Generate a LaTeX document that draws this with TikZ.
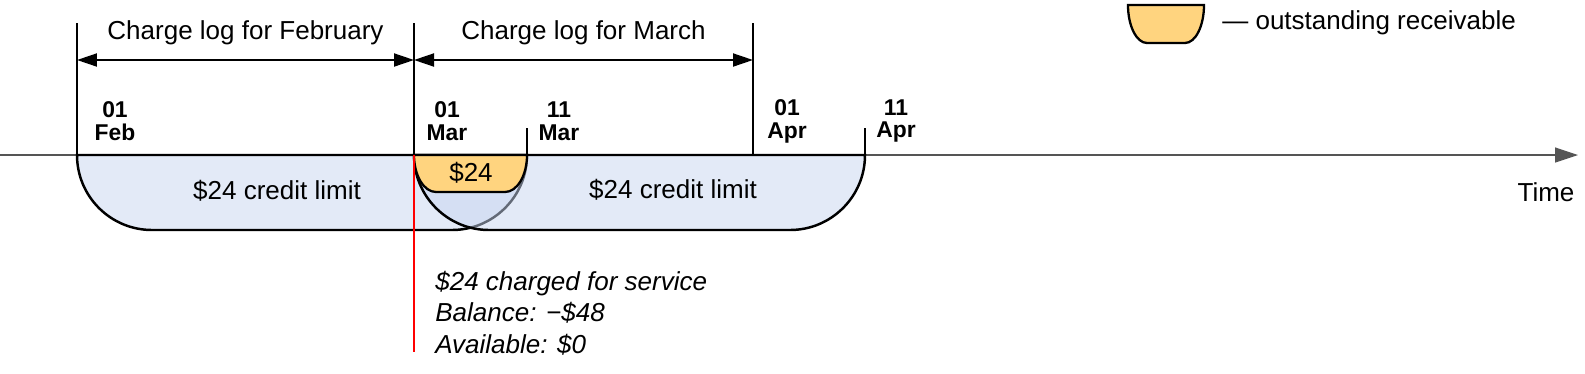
\documentclass[tikz,border=0pt]{standalone}
\usepackage{fontspec}
\setmainfont{Liberation Sans}
\usepackage{tikz}
\usetikzlibrary{arrows.meta,positioning}
\definecolor{limitblue}{HTML}{C7D5EF}
\definecolor{recvorange}{HTML}{FFD47F}
\definecolor{axisgray}{HTML}{555555}

\begin{document}
\begin{tikzpicture}[
  x=0.02cm, y=-0.02cm,
  font=\fontsize{14.8}{17.8}\selectfont,
  axis/.style={draw=axisgray, line width=0.7pt, -{Triangle[length=0.46cm, width=0.3cm]}},
  blob/.style={draw=black, line width=1.4pt, fill=limitblue, fill opacity=0.5},
  recv/.style={draw=black, line width=1.3pt, fill=recvorange},
  tickline/.style={draw=black, line width=1.1pt},
  dim/.style={{Triangle[length=0.4cm, width=0.26cm]}-{Triangle[length=0.4cm, width=0.26cm]}, line width=1.1pt},
  datelbl/.style={font=\bfseries\fontsize{13}{13}\selectfont, align=center, inner sep=0pt},
  lbl/.style={inner sep=0pt},
  charge/.style={draw=red, line width=1.5pt},
  note/.style={font=\itshape\fontsize{14.8}{17.9}\selectfont, align=left, inner sep=0pt},
]
\useasboundingbox (0,0) rectangle (1585,373);

% time axis
\coordinate (axstart) at (0,155);
\coordinate (axend) at (1578,155);
\draw[axis] (axstart) -- (axend);
\node[lbl] (timelbl) at (1546,192) {Time};

% ticks on the axis
\coordinate (feb) at (77,155);
\coordinate (mar) at (414,155);
\coordinate (mareleven) at (527,155);
\coordinate (apr) at (753,155);
\coordinate (apreleven) at (865,155);
\coordinate (febtop) at (77,23);
\coordinate (martop) at (414,23);
\coordinate (aprtop) at (753,23);
\coordinate (marelevtop) at (527,128);
\coordinate (aprelevtop) at (865,128);

% credit limit windows
\draw[blob] (feb) arc[start angle=180, end angle=90, radius=75] -- (452,230)
  arc[start angle=90, end angle=0, radius=75] -- cycle;
\draw[blob] (mar) arc[start angle=180, end angle=90, radius=75] -- (790,230)
  arc[start angle=90, end angle=0, radius=75] -- cycle;
\node[lbl] (feblimit) at (277,191) {\$24 credit limit};
\node[lbl] (marlimit) at (673,190) {\$24 credit limit};

% receivable
\draw[recv] (mar) arc[start angle=180, end angle=90, x radius=22, y radius=37] -- (505,192)
  arc[start angle=90, end angle=0, x radius=22, y radius=37] -- cycle;
\node[lbl] (recvtxt) at (471,173) {\$24};

\draw[tickline] (feb) -- (febtop);
\draw[tickline] (mar) -- (martop);
\draw[tickline] (apr) -- (aprtop);
\draw[tickline] (mareleven) -- (marelevtop);
\draw[tickline] (apreleven) -- (aprelevtop);

\node[datelbl] (febdate) at (115,121) {01\\Feb};
\node[datelbl] (mardate) at (447,121) {01\\Mar};
\node[datelbl] (mar11date) at (559,121) {11\\Mar};
\node[datelbl] (aprdate) at (787,121) {01\\Apr};
\node[datelbl] (apr11date) at (896,121) {11\\Apr};

% charge logs
\coordinate (febdim) at (77,60);
\coordinate (mardim) at (414,60);
\coordinate (aprdim) at (753,60);
\draw[dim] (febdim) -- (mardim) node[midway, yshift=0.54cm, lbl] (feblog) {Charge log for February};
\draw[dim] (mardim) -- (aprdim) node[midway, yshift=0.54cm, lbl] (marlog) {Charge log for March};

% charge event
\coordinate (chargeend) at (414,352);
\draw[charge] (mar) -- (chargeend);
\node[note, anchor=west] (chargenote) at (435,313) {\$24 charged for service\\Balance: −\$48\\Available: \$0};

% legend
\draw[recv] (1128,5) arc[start angle=180, end angle=90, x radius=19, y radius=38] -- (1185,43)
  arc[start angle=90, end angle=0, x radius=19, y radius=38] -- cycle;
\node[lbl, anchor=west] (legtxt) at (1222,23) {— outstanding receivable};
\end{tikzpicture}
\end{document}
